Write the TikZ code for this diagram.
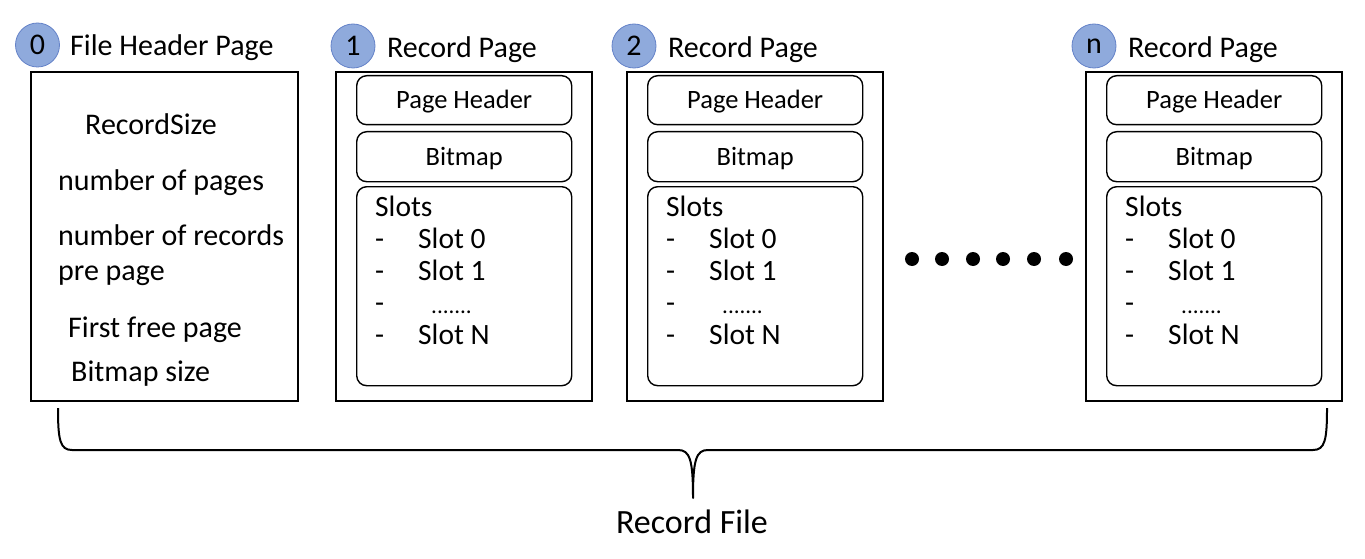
\documentclass[tikz,border=0pt]{standalone}
\usepackage{fontspec}
\setmainfont{Carlito}
\definecolor{badgefill}{RGB}{143,170,220}
\definecolor{badgeline}{RGB}{100,130,200}
\newcommand\myfsA{\fontsize{30}{36}\selectfont}
\newcommand\myfsB{\fontsize{26.5}{32}\selectfont}
\newcommand\myfsC{\fontsize{34}{40}\selectfont}
\newcommand\myfsD{\fontsize{29.5}{35}\selectfont}
\newcommand\myfsE{\fontsize{23}{28}\selectfont}
\begin{document}
\begin{tikzpicture}[x=1pt,y=-1pt,
  txt/.style={inner sep=0pt, font=\myfsA, text height=0.66em, text depth=0.2em, yshift=-6pt},
  slt/.style={txt, font=\myfsD},
  lbl/.style={inner sep=0pt, font=\myfsB, text height=0.66em, text depth=0.2em, yshift=-6pt},
  outerbox/.style={draw, line width=1.8pt, inner sep=0pt, anchor=north west, minimum width=257pt, minimum height=329pt},
  innerbox/.style={draw, line width=1.4pt, rounded corners=10pt, inner sep=0pt, anchor=north west, minimum width=215pt},
  badge/.style={circle, fill=badgefill, draw=badgeline, line width=0.8pt, minimum size=44pt, inner sep=0pt, font=\myfsA},
  dotc/.style={circle, fill=black, minimum size=14pt, inner sep=0pt},
  brace/.style={line width=2pt, line join=round}
]
\useasboundingbox (0,0) rectangle (1365,559);

% File header page
\node[badge] (b0) at (37.5,45) {0};
\node[txt, anchor=west] (t0) at (70,47) {File Header Page};
\node[outerbox, minimum width=267pt] (page0) at (30,71) {};
\node[txt] (fh1) at (151,126) {RecordSize};
\node[txt, anchor=west] (fh2) at (58,182) {number of pages};
\node[txt, anchor=west] (fh3) at (58,237) {number of records};
\node[txt, anchor=west] (fh4) at (58,272) {pre page};
\node[txt, anchor=west] (fh5) at (68,329) {First free page};
\node[txt, anchor=west] (fh6) at (71,373) {Bitmap size};

% Record pages
\foreach \i/\L/\B in {1/335/353, 2/626/634, n/1085/1094}{
  \node[badge] (b\i) at (\B,46) {\i};
  \node[txt, anchor=west] (t\i) at (\B+34,49) {Record Page};
  \node[outerbox, minimum width=256pt] (page\i) at (\L,71) {};
  \node[innerbox, minimum height=49pt] (ph\i) at (\L+21,75) {};
  \node[lbl] (pht\i) at (ph\i.center) {Page Header};
  \node[innerbox, minimum height=50pt] (bm\i) at (\L+21,131) {};
  \node[lbl] (bmt\i) at (bm\i.center) {Bitmap};
  \node[innerbox, minimum height=199pt] (sl\i) at (\L+21,186) {};
  \node[slt, anchor=west] (slt\i) at (\L+40,208) {Slots};
  \node[slt, anchor=west] (d0\i) at (\L+40,240) {-};
  \node[slt, anchor=west] (s0\i) at (\L+83,240) {Slot 0};
  \node[slt, anchor=west] (d1\i) at (\L+40,272) {-};
  \node[slt, anchor=west] (s1\i) at (\L+83,272) {Slot 1};
  \node[slt, anchor=west] (d2\i) at (\L+40,304) {-};
  \node[slt, anchor=west, font=\myfsE] (s2\i) at (\L+96,305.5) {.......};
  \node[slt, anchor=west] (d3\i) at (\L+40,336) {-};
  \node[slt, anchor=west] (s3\i) at (\L+83,336) {Slot N};
}

% dots
\foreach \k/\x in {1/912, 2/942, 3/973, 4/1003, 5/1034, 6/1066}{
  \node[dotc] (dot\k) at (\x,259) {};
}

% brace
\coordinate (brl) at (58,408);
\coordinate (brr) at (1327,408);
\coordinate (brm) at (693,498);
\draw[brace] (brl) .. controls (58,440) and (60,450) .. (72,450) -- (678,450)
  .. controls (690,450) and (693,460) .. (brm)
  .. controls (693,460) and (696,450) .. (708,450) -- (1313,450)
  .. controls (1325,450) and (1327,440) .. (brr);
\node[txt, font=\myfsC] (rf) at (692,525) {Record File};
\end{tikzpicture}
\end{document}
